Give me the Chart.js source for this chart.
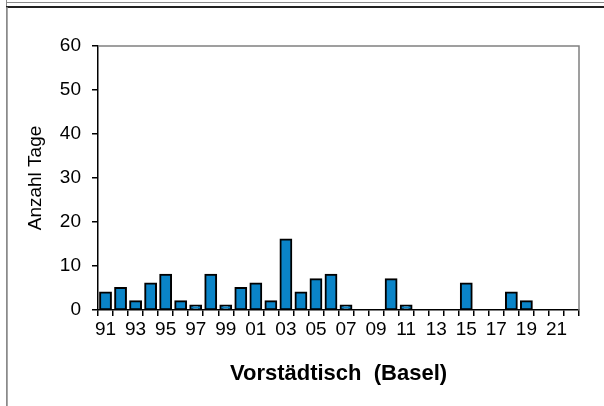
<!DOCTYPE html>
<html>
<head>
<meta charset="utf-8">
<script src="https://cdn.jsdelivr.net/npm/chart.js@4/dist/chart.umd.min.js"></script>
<style>
  html, body { margin: 0; padding: 0; background: #fff; }
  #wrap { width: 604px; height: 406px; }
</style>
</head>
<body>
<div id="wrap"><canvas id="daysChart" width="604" height="406"></canvas></div>
<script>
// Jahre 1991 - 2022 (zweistellig)
const years = ['91','92','93','94','95','96','97','98','99','00','01','02','03','04','05','06',
               '07','08','09','10','11','12','13','14','15','16','17','18','19','20','21','22'];
const days = [4, 5, 2, 6, 8, 2, 1, 8, 1, 5, 6, 2, 16, 4, 7, 8,
              1, 0, 0, 7, 1, 0, 0, 0, 6, 0, 0, 4, 2, 0, 0, 0];
const yTicks = [0, 10, 20, 30, 40, 50, 60];

const fontFamily = 'Arial, "Liberation Sans", sans-serif';

// Rahmen ums Bild + graue Linien oben/rechts am Diagramm
const framePlugin = {
  id: 'frame',
  beforeDraw(chart) {
    const ctx = chart.ctx;
    ctx.save();
    ctx.strokeStyle = '#8a8a8a';
    ctx.lineWidth = 1;
    ctx.beginPath();
    ctx.moveTo(6, 2.5); ctx.lineTo(604, 2.5);
    ctx.moveTo(6.5, 0); ctx.lineTo(6.5, 406);
    ctx.stroke();
    ctx.strokeStyle = '#222';
    ctx.lineWidth = 2;
    ctx.beginPath();
    ctx.moveTo(6, 7); ctx.lineTo(604, 7);
    ctx.stroke();
    ctx.strokeStyle = '#8a8a8a';
    ctx.lineWidth = 1.5;
    ctx.beginPath();
    ctx.moveTo(7, 7); ctx.lineTo(7, 406);
    ctx.stroke();
    ctx.restore();
  },
  afterDatasetsDraw(chart) {
    const { ctx, chartArea: a } = chart;
    ctx.save();
    ctx.strokeStyle = '#808080';
    ctx.lineWidth = 1.5;
    ctx.beginPath();
    ctx.moveTo(a.left, a.top); ctx.lineTo(a.right, a.top); ctx.lineTo(a.right, a.bottom);
    ctx.stroke();
    ctx.restore();
  }
};

new Chart(document.getElementById('daysChart'), {
  type: 'bar',
  data: {
    labels: years,
    datasets: [{
      data: days,
      backgroundColor: '#0a84c8',
      borderColor: '#000',
      borderWidth: 2,
      borderSkipped: false,
      inflateAmount: 1,
      categoryPercentage: 1,
      barPercentage: 0.72
    }]
  },
  options: {
    responsive: false,
    animation: false,
    layout: { padding: { top: 46, right: 25, left: 0, bottom: 0 } },
    plugins: { legend: { display: false }, tooltip: { enabled: false } },
    scales: {
      x: {
        afterFit(scale) { scale.height = 96; },
        border: { color: '#000', width: 1.5 },
        grid: { offset: true, drawOnChartArea: false, tickLength: 6, color: '#000', lineWidth: 1.5 },
        ticks: {
          autoSkip: false, maxRotation: 0, padding: 2,
          color: '#000', font: { family: fontFamily, size: 19 },
          callback: (v, i) => (i % 2 === 0 ? years[i] : '')
        },
        title: {
          display: true, text: 'Vorstädtisch  (Basel)', color: '#000',
          font: { family: fontFamily, size: 22, weight: 'bold' },
          padding: { top: 0, bottom: 19 }
        }
      },
      y: {
        min: 0, max: 60,
        afterFit(scale) { scale.width = 98; },
        border: { color: '#000', width: 1.5 },
        grid: { drawOnChartArea: false, tickLength: 6, color: '#000', lineWidth: 1.5 },
        ticks: {
          stepSize: 5, padding: 11,
          color: '#000', font: { family: fontFamily, size: 19 },
          callback: v => (yTicks.includes(v) ? v : '')
        },
        title: {
          display: true, text: 'Anzahl Tage', color: '#000',
          font: { family: fontFamily, size: 19 },
          padding: { top: 24, bottom: 0 }
        }
      }
    }
  },
  plugins: [framePlugin]
});
</script>
</body>
</html>
